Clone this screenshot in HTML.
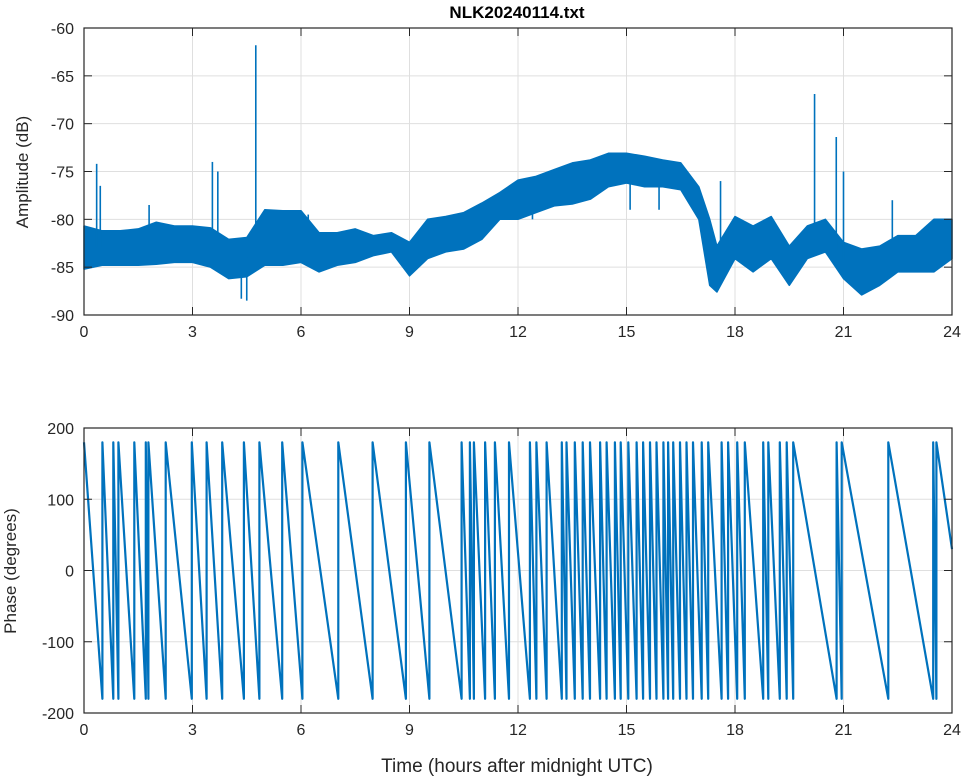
<!DOCTYPE html>
<html><head><meta charset="utf-8">
<style>
html,body{margin:0;padding:0;background:#fff;}
svg{display:block;font-family:"Liberation Sans",Arial,sans-serif;}
</style></head>
<body>
<svg id="chart" width="964" height="778" viewBox="0 0 964 778" xmlns="http://www.w3.org/2000/svg">
<text x="517" y="18" text-anchor="middle" font-size="17" font-weight="bold" fill="#000">NLK20240114.txt</text>
<g id="topPanel"></g>
<g id="botPanel"></g>
<text transform="translate(28,172) rotate(-90)" text-anchor="middle" font-size="17" fill="#262626">Amplitude (dB)</text>
<text transform="translate(16,571) rotate(-90)" text-anchor="middle" font-size="17" fill="#262626">Phase (degrees)</text>
<text x="517" y="772" text-anchor="middle" font-size="19" fill="#262626">Time (hours after midnight UTC)</text>
</svg>
<script>
// ---- data ----
const envTimes = [0,0.5,1,1.5,2,2.5,3,3.5,4,4.5,5,5.5,6,6.5,7,7.5,8,8.5,9,9.5,10,10.5,11,11.5,12,12.5,13,13.5,14,14.5,15,15.5,16,16.5,17,17.3,17.5,18,18.5,19,19.5,20,20.5,21,21.5,22,22.5,23,23.5,24];
const ampUpper = [-80.7,-81.2,-81.2,-81.0,-80.3,-80.7,-80.7,-80.9,-82.1,-81.9,-79.0,-79.1,-79.1,-81.4,-81.4,-81.0,-81.7,-81.4,-82.4,-80.0,-79.7,-79.3,-78.3,-77.2,-75.9,-75.5,-74.8,-74.1,-73.8,-73.1,-73.1,-73.4,-73.8,-74.1,-76.6,-80.0,-82.8,-79.7,-80.7,-79.7,-82.8,-80.7,-80.0,-82.4,-83.1,-82.8,-81.7,-81.7,-80.0,-80.0];
const ampLower = [-85.2,-84.8,-84.8,-84.8,-84.7,-84.5,-84.5,-85.0,-86.2,-86.0,-84.8,-84.8,-84.5,-85.5,-84.8,-84.5,-83.8,-83.4,-85.9,-84.1,-83.4,-83.1,-82.1,-80.0,-80.0,-79.3,-78.6,-78.4,-77.9,-76.6,-76.2,-76.6,-76.6,-76.9,-80.0,-86.9,-87.6,-84.1,-85.5,-84.1,-86.9,-84.1,-83.4,-86.2,-87.9,-86.9,-85.5,-85.5,-85.5,-84.1];
const spikeTimes = [0.35,0.45,1.8,3.55,3.7,4.75,4.35,4.5,6.2,12.4,15.1,15.9,17.6,20.2,20.8,21.0,22.35];
const spikeValues = [-74.2,-76.5,-78.5,-74.0,-75.0,-61.8,-88.3,-88.5,-79.5,-80.0,-79.0,-79.0,-76.0,-66.9,-71.4,-75.0,-78.0];
const wrapTimes = [0.51,0.81,0.95,1.39,1.71,1.78,2.26,2.98,3.39,3.82,4.42,4.85,5.48,6.04,7.03,7.98,8.90,9.55,10.44,10.67,10.78,11.09,11.36,11.75,12.33,12.51,12.79,13.21,13.34,13.57,13.79,13.99,14.27,14.45,14.68,14.84,15.05,15.28,15.46,15.65,15.83,16.02,16.15,16.29,16.48,16.66,16.84,17.08,17.26,17.63,17.81,18.06,18.27,18.78,18.92,19.24,19.43,19.61,20.81,20.95,22.24,23.48,23.57];
const phaseEndValue = 30;
const xTicks = [0,3,6,9,12,15,18,21,24];
const ampTicks = [-60,-65,-70,-75,-80,-85,-90];
const phaseTicks = [200,100,0,-100,-200];

// ---- layout ----
const NS="http://www.w3.org/2000/svg";
const L=84, R=952;
const T1=28, B1=315, T2=428, B2=713;
const xS = h => L + (h/24)*(R-L);
const yA = v => T1 + (-60 - v)/30*(B1-T1);
const yP = v => T2 + (200 - v)/400*(B2-T2);
const BLUE="#0072BD";
function mk(tag, attrs, parent){const e=document.createElementNS(NS,tag);for(const k in attrs)e.setAttribute(k,attrs[k]);parent.appendChild(e);return e;}

function axes(g, T, B, ticks, yf, prefix){
  const grid = mk('g',{},g);
  
  
  xTicks.forEach(t=>{ if(t>0&&t<24) mk('line',{x1:xS(t),x2:xS(t),y1:T,y2:B,stroke:'#dfdfdf','stroke-width':1},grid); });
  ticks.forEach(v=>{ const y=yf(v); if(y>T+1&&y<B-1) mk('line',{x1:L,x2:R,y1:y,y2:y,stroke:'#dfdfdf','stroke-width':1},grid); });
  return grid;
}
function frame(g, T, B, ticks, yf, prefix){
  const f = mk('g',{},g);
  
  
  mk('rect',{x:L,y:T,width:R-L,height:B-T,fill:'none',stroke:'#262626','stroke-width':1.2},f);
  xTicks.forEach(t=>{
    const x=xS(t);
    mk('line',{x1:x,x2:x,y1:B,y2:B-8,stroke:'#262626','stroke-width':1},f);
    mk('line',{x1:x,x2:x,y1:T,y2:T+8,stroke:'#262626','stroke-width':1},f);
    const tx=mk('text',{x:x,y:B+22,'text-anchor':'middle','font-size':16,fill:'#262626'},f);
    tx.textContent=t;
    
    
  });
  ticks.forEach(v=>{
    const y=yf(v);
    mk('line',{x1:L,x2:L+8,y1:y,y2:y,stroke:'#262626','stroke-width':1},f);
    mk('line',{x1:R,x2:R-8,y1:y,y2:y,stroke:'#262626','stroke-width':1},f);
    const tx=mk('text',{x:L-10,y:y+6,'text-anchor':'end','font-size':16,fill:'#262626'},f);
    tx.textContent=v;
    
    
  });
}

// amplitude panel
const topG=document.getElementById('topPanel');
axes(topG,T1,B1,ampTicks,yA,'amplitude');
let pts=[];
envTimes.forEach((t,i)=>pts.push(xS(t).toFixed(1)+','+yA(ampUpper[i]).toFixed(1)));
for(let i=envTimes.length-1;i>=0;i--) pts.push(xS(envTimes[i]).toFixed(1)+','+yA(ampLower[i]).toFixed(1));
const band=mk('polygon',{points:pts.join(' '),fill:BLUE,stroke:BLUE,'stroke-width':1.5,'stroke-linejoin':'round'},topG);


spikeTimes.forEach((t,i)=>{
  let j=0; while(j<envTimes.length-2 && envTimes[j+1]<t) j++;
  const f=(t-envTimes[j])/(envTimes[j+1]-envTimes[j]);
  const mid=(ampUpper[j]+(ampUpper[j+1]-ampUpper[j])*f + ampLower[j]+(ampLower[j+1]-ampLower[j])*f)/2;
  const s=mk('line',{x1:xS(t),x2:xS(t),y1:yA(mid),y2:yA(spikeValues[i]),stroke:BLUE,'stroke-width':1.6},topG);
  
  
});
frame(topG,T1,B1,ampTicks,yA,'amplitude');

// phase panel
const botG=document.getElementById('botPanel');
axes(botG,T2,B2,phaseTicks,yP,'phase');
let d='M'+xS(0).toFixed(1)+','+yP(180).toFixed(1);
wrapTimes.forEach(t=>{
  d+=' L'+xS(t).toFixed(1)+','+yP(-180).toFixed(1)+' L'+xS(t).toFixed(1)+','+yP(180).toFixed(1);
});
d+=' L'+xS(24).toFixed(1)+','+yP(phaseEndValue).toFixed(1);
const ph=mk('path',{d:d,fill:'none',stroke:BLUE,'stroke-width':2.2,'stroke-linejoin':'round'},botG);


frame(botG,T2,B2,phaseTicks,yP,'phase');
</script>
</body></html>
